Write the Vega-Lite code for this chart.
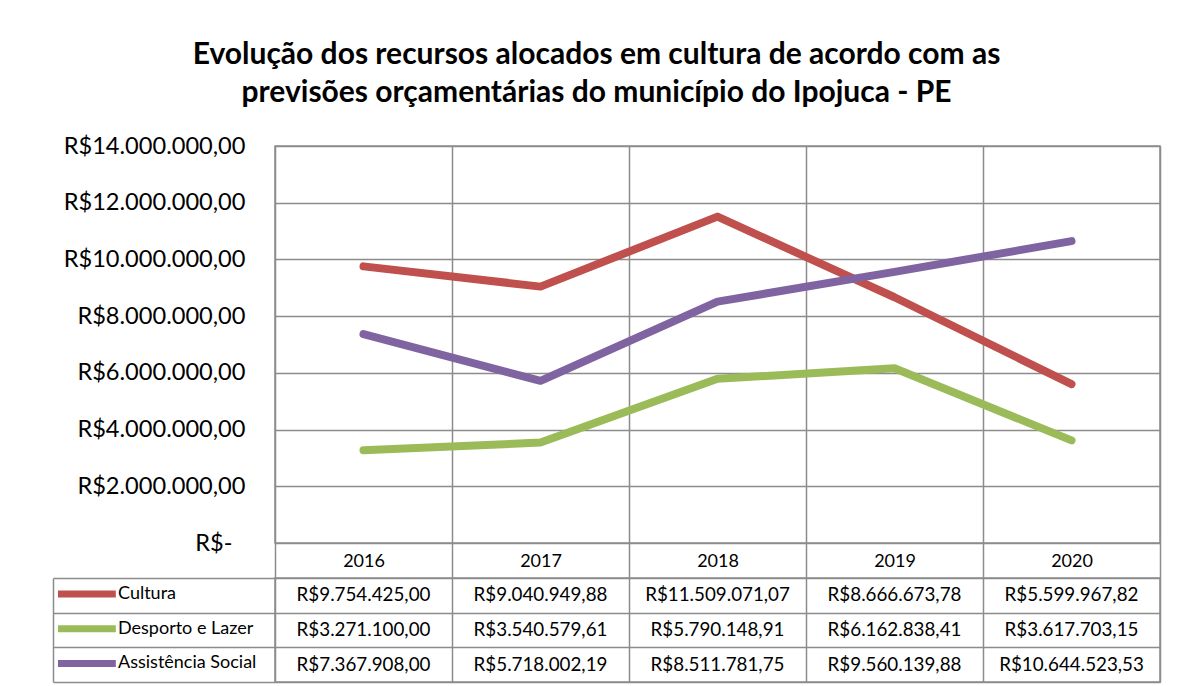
{
  "$schema": "https://vega.github.io/schema/vega-lite/v6.json",
  "background": "white",
  "padding": {"left": 51, "top": 40, "right": 10, "bottom": 4},
  "config": {
    "locale": {"number": {"decimal": ",", "thousands": ".", "grouping": [3], "currency": ["R$", ""]}},
    "font": "Lato",
    "view": {"stroke": "#8c8c8c", "strokeWidth": 1.5},
    "axis": {"gridColor": "#8c8c8c", "gridWidth": 1.5, "tickColor": "#8c8c8c", "tickWidth": 1.5, "domainColor": "#8c8c8c", "domainWidth": 1.5, "labelFont": "Lato", "labelColor": "black"}
  },
  "title": {
    "text": ["Evolução dos recursos alocados em cultura de acordo com as", "previsões orçamentárias do município do Ipojuca - PE"],
    "fontSize": 30, "fontWeight": "bold", "font": "Lato", "color": "black", "lineHeight": 38, "anchor": "middle", "offset": 25, "dx": -10
  },
  "datasets": {
    "tabela": [
      {"ano": "2016", "serie": "Cultura", "valor": 9754425.00},
      {"ano": "2017", "serie": "Cultura", "valor": 9040949.88},
      {"ano": "2018", "serie": "Cultura", "valor": 11509071.07},
      {"ano": "2019", "serie": "Cultura", "valor": 8666673.78},
      {"ano": "2020", "serie": "Cultura", "valor": 5599967.82},
      {"ano": "2016", "serie": "Desporto e Lazer", "valor": 3271100.00},
      {"ano": "2017", "serie": "Desporto e Lazer", "valor": 3540579.61},
      {"ano": "2018", "serie": "Desporto e Lazer", "valor": 5790148.91},
      {"ano": "2019", "serie": "Desporto e Lazer", "valor": 6162838.41},
      {"ano": "2020", "serie": "Desporto e Lazer", "valor": 3617703.15},
      {"ano": "2016", "serie": "Assistência Social", "valor": 7367908.00},
      {"ano": "2017", "serie": "Assistência Social", "valor": 5718002.19},
      {"ano": "2018", "serie": "Assistência Social", "valor": 8511781.75},
      {"ano": "2019", "serie": "Assistência Social", "valor": 9560139.88},
      {"ano": "2020", "serie": "Assistência Social", "valor": 10644523.53}
    ]
  },
  "resolve": {"legend": {"color": "independent"}},
  "bounds": "flush",
  "spacing": 35,
  "vconcat": [
    {
      "width": 885,
      "height": 397,
      "data": {"name": "tabela"},
      "mark": {"type": "line", "strokeWidth": 8, "strokeCap": "round", "strokeJoin": "round"},
      "encoding": {
        "x": {
          "field": "ano", "type": "nominal",
          "scale": {"paddingInner": 0, "paddingOuter": 0},
          "axis": {"title": null, "labelAngle": 0, "tickBand": "extent", "tickSize": 35, "domain": false, "grid": true, "labelPadding": -17, "labelBaseline": "middle", "labelFontSize": 18}
        },
        "y": {
          "field": "valor", "type": "quantitative",
          "scale": {"domain": [0, 14000000], "nice": false, "zero": true},
          "axis": {"title": null, "values": [0, 2000000, 4000000, 6000000, 8000000, 10000000, 12000000, 14000000], "format": "$,.2f", "labelExpr": "datum.value == 0 ? 'R$-' : datum.label", "ticks": false, "tickSize": 0, "domain": false, "labelPadding": {"condition": {"test": "datum.value == 0", "value": 43}, "value": 30}, "labelFontSize": 23.6, "labelLimit": 400}
        },
        "color": {
          "field": "serie", "type": "nominal",
          "scale": {"domain": ["Cultura", "Desporto e Lazer", "Assistência Social"], "range": ["#C0504D", "#9BBB59", "#8064A2"]},
          "legend": {"orient": "none", "legendX": -201.6, "legendY": 434.5, "title": null, "direction": "vertical", "symbolType": "M-3,0H3", "symbolSize": 372, "symbolStrokeWidth": 7, "labelFontSize": 18, "labelColor": "black", "labelFont": "Lato", "labelOffset": 17.6, "rowPadding": 5.7, "padding": 0, "labelLimit": 300}
        }
      }
    },
    {
      "width": 885,
      "height": 104,
      "data": {"name": "tabela"},
      "mark": {"type": "text", "fontSize": 18.8, "color": "black", "font": "Lato"},
      "encoding": {
        "x": {
          "field": "ano", "type": "nominal",
          "scale": {"paddingInner": 0, "paddingOuter": 0},
          "axis": {"title": null, "labels": false, "ticks": false, "domain": false, "grid": true, "tickBand": "extent"}
        },
        "y": {
          "field": "serie", "type": "nominal",
          "sort": ["Cultura", "Desporto e Lazer", "Assistência Social"],
          "scale": {"paddingInner": 0, "paddingOuter": 0},
          "axis": {"title": null, "labels": false, "offset": 222, "domain": true, "ticks": true, "tickSize": -222, "tickBand": "extent", "grid": true}
        },
        "text": {"field": "valor", "type": "quantitative", "format": "$,.2f"}
      }
    }
  ]
}
